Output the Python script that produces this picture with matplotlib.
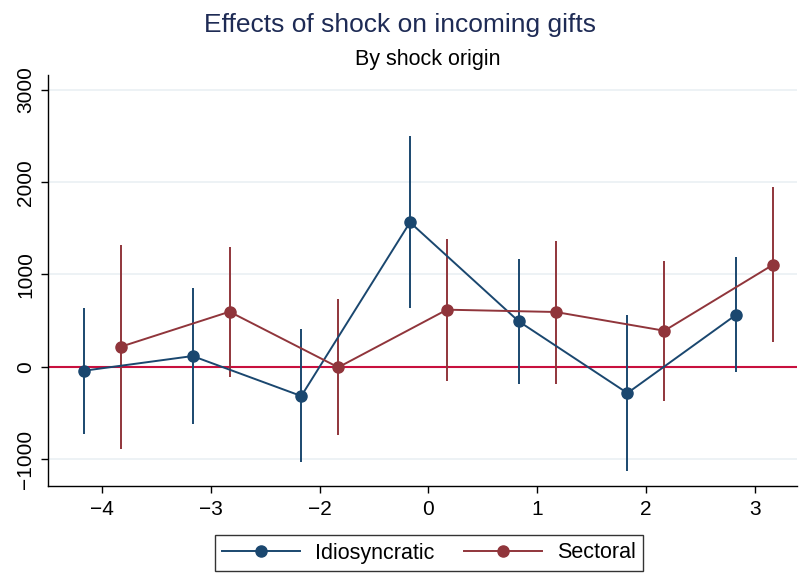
import matplotlib
matplotlib.use("Agg")
import matplotlib.pyplot as plt
import numpy as np

plt.rcParams['font.family'] = ['Liberation Sans', 'DejaVu Sans']

categories = ["\u22124", "\u22123", "\u22122", "0", "1", "2", "3"]
idio_est = [-42, 117, -316, 1565, 493, -284, 564]
idio_lo = [-725, -620, -1035, 633, -190, -1125, -60]
idio_hi = [633, 854, 406, 2500, 1168, 561, 1193]
sect_est = [218, 597, -5, 619, 594, 391, 1106]
sect_lo = [-887, -114, -742, -150, -183, -374, 265]
sect_hi = [1323, 1301, 738, 1385, 1366, 1149, 1951]
yticks = [-1000, 0, 1000, 2000, 3000]

navy = "#1a476f"
maroon = "#90353b"
zero_col = "#c8103e"
grid_col = "#eaf0f3"

fig = plt.figure(figsize=(7.99, 5.73), dpi=100)
W, H = 799, 573
ax = fig.add_axes([48 / W, 1 - 486 / H, (797 - 48) / W, (486 - 75) / H])

pos = np.arange(len(categories))
off = 0.17

ax.axhline(0, color=zero_col, lw=1.5, zorder=2)

for est, lo, hi, col, o, lab in [(idio_est, idio_lo, idio_hi, navy, -off, "Idiosyncratic"),
                                  (sect_est, sect_lo, sect_hi, maroon, off, "Sectoral")]:
    x = pos + o
    ax.vlines(x, lo, hi, color=col, lw=1.4, zorder=3)
    ax.plot(x, est, color=col, lw=1.4, marker='o', markersize=8, zorder=4, label=lab)

ax.set_xlim(-0.5, 6.39)
ax.set_ylim(-1290, 3160)
ax.set_xticks(pos)
ax.set_xticklabels(categories)
ax.set_yticks(yticks)
ax.set_yticklabels(["\u22121000", "0", "1000", "2000", "3000"], rotation=90, va='center')
ax.tick_params(axis='both', labelsize=15, length=5, width=1, color='black', direction='out')
ax.tick_params(axis='x', pad=5)
ax.tick_params(axis='y', pad=4)
ax.yaxis.grid(True, color=grid_col, lw=1.2)
ax.set_axisbelow(True)
for s in ['top', 'right']:
    ax.spines[s].set_visible(False)
for s in ['left', 'bottom']:
    ax.spines[s].set_linewidth(1.0)

fig.text(400 / W, 1 - 25 / H, "Effects of shock on incoming gifts", ha='center', va='center',
         fontsize=19, color="#1e2b55")
fig.text(428 / W, 1 - 59 / H, "By shock origin", ha='center', va='center', fontsize=15.5, color='black')

leg = fig.legend(loc='center', bbox_to_anchor=(429 / W, 1 - 553 / H), ncol=2, fontsize=15.5,
                 frameon=True, fancybox=False, edgecolor='black', handlelength=3.6,
                 columnspacing=1.4, borderpad=0.35, handletextpad=0.7, borderaxespad=0)
leg.get_frame().set_linewidth(1.0)

fig.savefig("out.png", dpi=100)
